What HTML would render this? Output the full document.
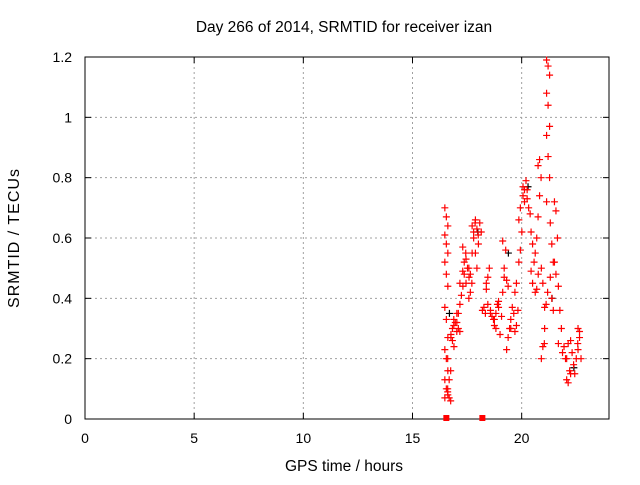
<!DOCTYPE html>
<html><head><meta charset="utf-8"><style>
body{margin:0;background:#fff;}
svg text{font-family:"Liberation Sans",sans-serif;font-size:14px;fill:#000;}
</style></head><body>
<svg id="chart" width="640" height="480">
<rect width="640" height="480" fill="#fff"/>
<text x="344" y="32" text-anchor="middle" style="font-size:15.5px">Day 266 of 2014, SRMTID for receiver izan</text>
<text x="344" y="471" text-anchor="middle" style="font-size:15.5px">GPS time / hours</text>
<text transform="translate(19,238) rotate(-90)" text-anchor="middle" style="font-size:16px;letter-spacing:1px">SRMTID / TECUs</text>
<g id="grid"></g><g id="axes"></g><g id="marks"></g>
</svg>
<script>
const xTicks=[0,5,10,15,20];
const yTicks=[0,0.2,0.4,0.6,0.8,1,1.2];
const yTickLabels=["0","0.2","0.4","0.6","0.8","1","1.2"];
const hours=[16.55,16.68,16.83,16.96,17.1,17.24,17.37,17.52,17.65,17.8,17.95,18.08,18.27,18.45,18.64,18.82,19.01,19.2,19.38,19.57,19.76,19.94,20.13,20.32,20.5,20.69,20.82,20.97,21.12,21.21,21.38,21.57,21.75,21.94,22.13,22.31,22.5,22.65];
const srmtid=[
[0.70,0.67,0.64,0.61,0.58,0.55,0.52,0.48,0.44,0.37,0.33,0.27,0.23,0.20,0.16,0.13,0.10,0.08,0.07],
[0.09,0.07,0.06,0.10,0.13,0.16,0.20],
[0.27,0.26,0.24,0.28,0.30],
[0.31,0.32,0.29,0.33],
[0.35,0.30,0.29,0.32,0.35],
[0.38,0.41,0.44,0.45],
[0.49,0.52,0.55,0.57,0.48],
[0.53,0.50,0.47,0.45],
[0.40,0.42,0.45,0.50,0.48],
[0.55,0.60,0.65,0.64,0.62],
[0.66,0.63,0.58,0.55,0.50],
[0.61,0.65,0.62],
[0.36,0.37,0.35],
[0.43,0.47,0.50,0.45,0.38],
[0.35,0.34,0.33,0.36],
[0.31,0.35,0.38,0.33,0.30],
[0.37,0.28,0.34,0.39],
[0.42,0.50,0.56,0.59,0.47],
[0.46,0.44,0.30,0.23,0.27],
[0.33,0.37,0.35,0.30],
[0.29,0.31,0.36,0.42,0.45],
[0.52,0.56,0.62,0.66,0.70],
[0.74,0.76,0.79,0.77,0.72],
[0.73,0.70,0.68,0.76],
[0.62,0.58,0.52,0.49,0.45],
[0.42,0.43,0.48,0.55,0.60],
[0.67,0.74,0.80,0.84,0.86],
[0.50,0.45,0.25,0.20,0.24],
[0.30,0.38,0.42,0.37],
[1.19,1.17,1.14,1.08,1.04,0.97,0.94,0.87,0.80,0.72],
[0.65,0.58,0.52,0.47,0.40,0.36],
[0.72,0.69,0.60,0.52,0.48],
[0.44,0.36,0.30,0.25],
[0.22,0.24,0.20],
[0.13,0.12,0.16,0.20,0.25],
[0.26,0.22,0.18,0.15],
[0.15,0.20,0.25],
[0.30,0.27,0.20,0.23,0.29]];
const zeroHours=[16.55,18.2];
const blackHours=[16.6,17.9,19.3,20.2,21.3,22.3];
const blackValues=[0.35,0.62,0.55,0.77,0.4,0.17];

const L=85,R=609,T=57,B=419;
const x=t=>L+(t/24)*(R-L);
const y=v=>B-(v/1.2)*(B-T);
const NS="http://www.w3.org/2000/svg";
function mk(tag,attrs,parent){const e=document.createElementNS(NS,tag);for(const k in attrs)e.setAttribute(k,attrs[k]);parent.appendChild(e);return e;}
const grid=document.getElementById('grid'),axes=document.getElementById('axes'),marks=document.getElementById('marks');
xTicks.forEach(t=>{
  if(t>0){const g=mk('line',{x1:x(t),x2:x(t),y1:T,y2:B,stroke:'#a0a0a0','stroke-dasharray':'2,3'},grid);
  
  }
  const tk=mk('line',{x1:x(t),x2:x(t),y1:B,y2:B-6,stroke:'#000'},axes);
  
  
  const tk2=mk('line',{x1:x(t),x2:x(t),y1:T,y2:T+6,stroke:'#000'},axes);
  
  
  const lb=mk('text',{x:x(t),y:443,'text-anchor':'middle'},axes);lb.textContent=String(t);
  
  
});
yTicks.forEach((v,i)=>{
  if(v>0&&v<1.2){const g=mk('line',{x1:L,x2:R,y1:y(v),y2:y(v),stroke:'#a0a0a0','stroke-dasharray':'2,3'},grid);
  
  }
  const tk=mk('line',{x1:L,x2:L+6,y1:y(v),y2:y(v),stroke:'#000'},axes);
  
  
  const tk2=mk('line',{x1:R,x2:R-6,y1:y(v),y2:y(v),stroke:'#000'},axes);
  
  
  const lb=mk('text',{x:72,y:y(v)+5,'text-anchor':'end'},axes);lb.textContent=yTickLabels[i];
  
  
});
const frame=mk('rect',{x:L,y:T,width:R-L,height:B-T,fill:'none',stroke:'#000'},axes);


function plus(cx,cy,color,name){
  const p=mk('path',{d:`M${cx-3.5},${cy}H${cx+3.5}M${cx},${cy-3.5}V${cy+3.5}`,stroke:color,'stroke-width':1.2,fill:'none'},marks);
  
  
}
blackHours.forEach((t,i)=>plus(x(t)+2,y(blackValues[i]),'#000','black-point'));
hours.forEach((t,i)=>{srmtid[i].forEach((v,j)=>plus(x(t)+((j%3)-1)*1.5,y(v),'#f00','srmtid-point'));});
zeroHours.forEach(t=>{
  const s=mk('rect',{x:x(t)-3,y:B-4,width:6,height:6,fill:'#f00'},marks);
  
  
});
</script>
</body></html>
